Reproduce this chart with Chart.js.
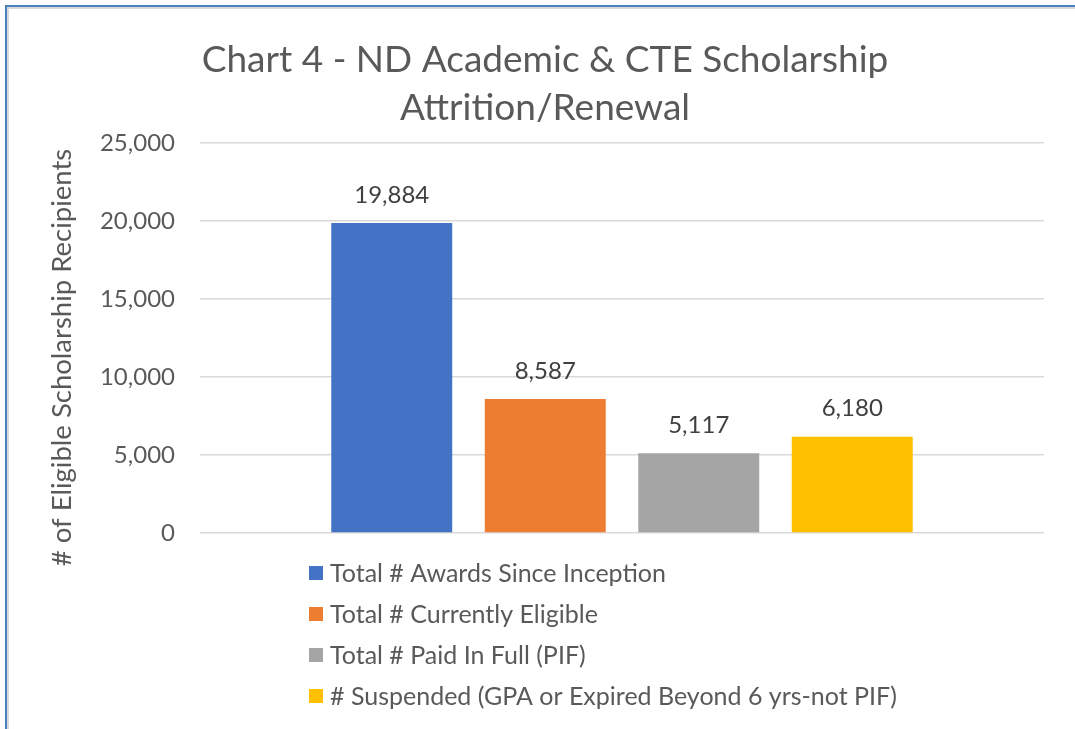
<!DOCTYPE html>
<html>
<head>
<meta charset="utf-8">
<script src="https://cdn.jsdelivr.net/npm/chart.js@4.4.1/dist/chart.umd.min.js"></script>
<style>
  html, body { margin: 0; padding: 0; background: #ffffff; overflow: hidden; }
  body { width: 1075px; height: 729px; position: relative; }
  #frameBlue { position: absolute; left: 5px; top: 5px; right: -10px; bottom: -10px;
               border-top: 2px solid #4a7ebf; border-left: 2px solid #4a7ebf; }
  #frameGray { position: absolute; left: 0; top: 0; right: 0; bottom: 0;
               border-top: 2px solid #d9d9d9; border-left: 2px solid #d9d9d9; }
  #wrap { position: absolute; left: 9px; top: 9px; width: 1072px; height: 720px; }
</style>
</head>
<body>
<div id="frameBlue"><div id="frameGray"></div></div>
<div id="wrap"><canvas id="c" width="1072" height="720"></canvas></div>
<script>
// ---- data ----
const categories = [''];
const seriesNames = [
  'Total # Awards Since Inception',
  'Total # Currently Eligible',
  'Total # Paid In Full (PIF)',
  '# Suspended (GPA or Expired Beyond 6 yrs-not PIF)'
];
const seriesValues = [19884, 8587, 5117, 6180];
const seriesColors = ['#4472c4', '#ed7d31', '#a5a5a5', '#ffc000'];
const titleLines = ['Chart 4 - ND Academic & CTE Scholarship', 'Attrition/Renewal'];
const yAxisTitle = '# of Eligible Scholarship Recipients';
const yMin = 0, yMax = 25000, yStep = 5000;

const FONT = 'Lato, "Open Sans", sans-serif';
const fmt = v => Number(v).toLocaleString('en-US');

const dataLabelPlugin = {
  id: 'dataLabels',
  afterDatasetsDraw(chart) {
    const ctx = chart.ctx;
    ctx.save();
    ctx.font = '24px ' + FONT;
    ctx.fillStyle = '#404040';
    ctx.textAlign = 'center';
    ctx.textBaseline = 'middle';
    chart.data.datasets.forEach((ds, i) => {
      const meta = chart.getDatasetMeta(i);
      meta.data.forEach((bar, j) => {
        ctx.fillText(fmt(ds.data[j]), bar.x, bar.y - 28);
      });
    });
    ctx.restore();
  }
};

const yTitlePlugin = {
  id: 'yTitle',
  afterDraw(chart, args, opts) {
    const ctx = chart.ctx;
    ctx.save();
    ctx.translate(opts.x, opts.y);
    ctx.rotate(-Math.PI / 2);
    ctx.font = opts.fontSize + 'px ' + FONT;
    ctx.fillStyle = '#595959';
    ctx.textAlign = 'center';
    ctx.textBaseline = 'middle';
    ctx.fillText(yAxisTitle, 0, 0);
    ctx.restore();
  }
};

const listLegendPlugin = {
  id: 'listLegend',
  afterDraw(chart, args, opts) {
    const ctx = chart.ctx;
    ctx.save();
    ctx.font = opts.fontSize + 'px ' + FONT;
    ctx.textBaseline = 'middle';
    ctx.textAlign = 'left';
    chart.data.datasets.forEach((ds, i) => {
      const cy = opts.top + i * opts.rowGap;
      ctx.fillStyle = ds.backgroundColor;
      ctx.fillRect(opts.left, cy - opts.box / 2, opts.box, opts.box);
      ctx.fillStyle = '#595959';
      ctx.fillText(ds.label, opts.left + opts.box + opts.textGap, cy + 1);
    });
    ctx.restore();
  }
};

function draw() {
  new Chart(document.getElementById('c'), {
    type: 'bar',
    data: {
      labels: categories,
      datasets: seriesNames.map((name, i) => ({
        label: name,
        data: [seriesValues[i]],
        backgroundColor: seriesColors[i],
        borderWidth: 0,
        categoryPercentage: 0.7275,
        barPercentage: 0.788
      }))
    },
    options: {
      responsive: false,
      animation: false,
      devicePixelRatio: 1,
      layout: { padding: { left: 37, right: 37, top: 0, bottom: 196 } },
      plugins: {
        legend: { display: false },
        tooltip: { enabled: false },
        title: {
          display: true,
          text: titleLines,
          color: '#595959',
          font: { family: FONT, size: 37, weight: 'normal', lineHeight: 1.3 },
          padding: { top: 27, bottom: 11 }
        },
        yTitle: { x: 53, y: 348.5, fontSize: 27.5 },
        listLegend: { left: 300, top: 564, rowGap: 41, box: 14, textGap: 7, fontSize: 25 }
      },
      scales: {
        x: { display: false },
        y: {
          min: yMin, max: yMax,
          afterFit(scale) { scale.width = 154; },
          border: { display: false },
          grid: { color: '#d9d9d9', lineWidth: 1.5, drawTicks: false },
          ticks: {
            stepSize: yStep,
            padding: 25,
            color: '#595959',
            font: { family: FONT, size: 24 },
            callback: v => fmt(v)
          }
        }
      }
    },
    plugins: [dataLabelPlugin, yTitlePlugin, listLegendPlugin]
  });
}

if (document.fonts && document.fonts.load) {
  Promise.all([document.fonts.load('24px Lato'), document.fonts.load('37px Lato')])
    .then(draw, draw);
} else { draw(); }
</script>
</body>
</html>
